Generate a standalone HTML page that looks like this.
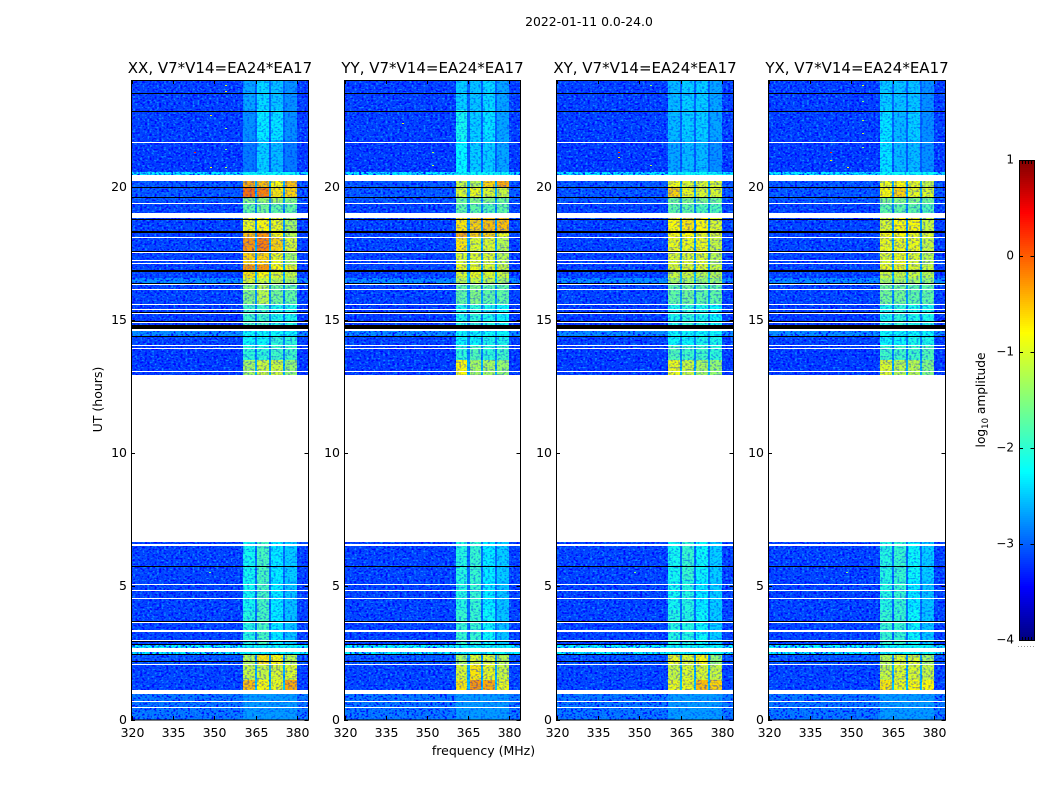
<!DOCTYPE html>
<html>
<head>
<meta charset="utf-8">
<title>2022-01-11 0.0-24.0</title>
<style>
html,body{margin:0;padding:0;background:#fff;}
svg{display:block;}
text{font-family:"DejaVu Sans","Liberation Sans",sans-serif;fill:#000;}
</style>
</head>
<body>
<svg id="fig" xmlns="http://www.w3.org/2000/svg" width="1050" height="800" viewBox="0 0 1050 800">
<defs>
<filter id="speckDark" x="0" y="0" width="100%" height="100%" color-interpolation-filters="sRGB">
<feTurbulence type="fractalNoise" baseFrequency="0.42 0.55" numOctaves="1" seed="4"/>
<feColorMatrix type="matrix" values="0 0 0 0 0.0  0 0 0 0 0.0  0 0 0 0 1  5 0 0 0 -2.4"/>
</filter>
<filter id="speckLight" x="0" y="0" width="100%" height="100%" color-interpolation-filters="sRGB">
<feTurbulence type="fractalNoise" baseFrequency="0.42 0.55" numOctaves="1" seed="17"/>
<feColorMatrix type="matrix" values="0 0 0 0 0.05  0 0 0 0 0.55  0 0 0 0 1  5 0 0 0 -2.7"/>
</filter>
</defs>
<text x="589" y="26" font-size="12.4" text-anchor="middle">2022-01-11 0.0-24.0</text>
<text x="483.5" y="755" font-size="12.5" text-anchor="middle">frequency (MHz)</text>
<text x="0" y="0" font-size="12.5" text-anchor="middle" transform="translate(102,399.5) rotate(-90)">UT (hours)</text>
<text x="0" y="0" font-size="12.2" text-anchor="middle" transform="translate(985,400) rotate(-90)">log<tspan font-size="8.5" dy="3">10</tspan><tspan dy="-3"> amplitude</tspan></text>
<g id="panels"></g>
<g id="colorbar"></g>
</svg>
<script>
// ---- categories and axis labels ----
const panelTitles = ["XX, V7*V14=EA24*EA17", "YY, V7*V14=EA24*EA17", "XY, V7*V14=EA24*EA17", "YX, V7*V14=EA24*EA17"];
const freqTicks = [320, 335, 350, 365, 380];
const utTicks = [0, 5, 10, 15, 20];
const colorbarTicks = [1, 0, -1, -2, -3, -4];

// ---- frequency channels (MHz) : background, four sub-bands, three notches ----
const channelStart = [320, 360.5, 364.8, 365.6, 369.8, 370.6, 374.8, 375.6, 380];
const channelEnd = [360.5, 364.8, 365.6, 369.8, 370.6, 374.8, 375.6, 380, 384];
// index of each channel into a row [bg, s1, s2, s3, s4, notch]
const channelKey = [0, 1, 5, 2, 5, 3, 5, 4, 0];

// ---- time rows (UT hours) ----
const rowTop = [24, 22.87, 21.74, 20.54, 20.2, 19.98, 19.6, 19.37, 18.82, 18.29, 18.1, 17.54, 17.05, 16.79, 16.56, 16.34, 15.59, 14.58, 14.39, 14.05, 13.49, 6.66, 5.23, 4.1, 2.8, 2.46, 2.08, 1.48, 1.11];
const rowBottom = [22.87, 21.74, 20.54, 20.2, 19.98, 19.6, 19.37, 18.82, 18.29, 18.1, 17.54, 17.05, 16.79, 16.56, 16.34, 15.59, 14.58, 14.39, 14.05, 13.49, 12.93, 5.23, 4.1, 2.8, 2.46, 2.08, 1.48, 1.11, 0];

// ---- log10 amplitude per row: [bg, s1, s2, s3, s4, notch] ----
const xxValues = [
[-3.12,-2.65,-2.4,-2.5,-2.75,-2.95],[-3.12,-2.75,-2.3,-2.35,-2.75,-2.95],[-3.15,-2.85,-2.45,-2.55,-2.85,-3.0],[-2.3,-2.2,-2.2,-2.2,-2.2,-2.2],
[-3.0,-0.4,-0.5,-0.8,-0.5,-2.6],[-3.0,-0.1,-0.2,-0.7,-0.6,-2.6],[-3.0,-1.5,-1.4,-1.3,-1.5,-2.7],[-3.1,-1.7,-1.6,-1.7,-1.7,-2.8],
[-3.1,-0.9,-0.8,-0.9,-1.3,-2.7],[-3.1,-0.5,-0.3,-0.8,-1.2,-2.7],[-3.1,-0.3,-0.2,-0.6,-1.0,-2.6],[-3.1,-0.6,-0.6,-0.9,-1.3,-2.7],
[-3.1,-0.3,-0.3,-0.8,-0.9,-2.6],[-3.1,-0.7,-0.8,-1.0,-1.1,-2.5],[-2.75,-1.0,-1.1,-1.2,-1.3,-2.5],[-3.1,-1.5,-1.2,-1.6,-1.7,-2.7],
[-3.15,-1.9,-1.9,-2.1,-2.1,-2.8],[-2.75,-2.2,-2.2,-2.2,-2.2,-2.6],[-3.1,-2.2,-2.2,-2.0,-2.0,-2.8],[-3.15,-2.0,-2.0,-1.9,-1.9,-2.8],[-3.15,-1.3,-1.1,-1.1,-1.4,-2.6],
[-3.1,-2.15,-1.85,-2.3,-2.45,-2.9],[-3.1,-2.15,-1.85,-2.3,-2.5,-2.9],[-3.1,-2.05,-1.85,-2.3,-2.5,-2.9],[-2.25,-2.2,-2.2,-2.2,-2.2,-2.2],
[-3.0,-1.2,-0.7,-0.8,-1.2,-2.7],[-3.1,-1.1,-1.1,-1.0,-1.0,-2.6],[-3.1,-0.5,-0.8,-0.9,-0.4,-2.5],[-2.85,-2.7,-2.7,-2.7,-2.7,-2.7]];
const yyValues = [
[-3.12,-2.45,-2.5,-2.4,-2.65,-2.95],[-3.12,-2.15,-2.45,-2.35,-2.65,-2.95],[-3.15,-2.25,-2.45,-2.45,-2.65,-3.0],[-2.3,-2.2,-2.2,-2.2,-2.2,-2.2],
[-3.0,-1.1,-1.2,-0.6,-0.4,-2.6],[-3.0,-1.0,-0.9,-1.0,-1.1,-2.6],[-3.0,-1.6,-1.5,-1.5,-1.6,-2.7],[-3.1,-1.7,-1.7,-1.8,-1.7,-2.8],
[-3.1,-0.7,-0.6,-0.5,-0.5,-2.7],[-3.1,-0.4,-0.6,-0.6,-0.9,-2.7],[-3.1,-0.7,-1.0,-1.0,-1.2,-2.6],[-3.1,-1.0,-1.0,-1.0,-1.2,-2.7],
[-3.1,-0.9,-0.9,-1.0,-1.1,-2.6],[-3.1,-1.0,-0.9,-1.0,-1.1,-2.5],[-2.75,-1.2,-1.1,-1.2,-1.3,-2.5],[-3.1,-1.7,-1.5,-1.7,-1.7,-2.7],
[-3.15,-2.1,-2.0,-2.1,-2.2,-2.8],[-2.75,-2.2,-2.2,-2.2,-2.2,-2.6],[-3.1,-2.2,-2.2,-2.1,-2.1,-2.8],[-3.15,-2.0,-1.8,-2.0,-1.9,-2.8],[-3.15,-0.8,-1.3,-1.3,-1.4,-2.6],
[-3.1,-2.05,-1.95,-2.3,-2.45,-2.9],[-3.1,-2.05,-1.95,-2.3,-2.5,-2.9],[-3.1,-1.95,-1.95,-2.2,-2.5,-2.9],[-2.25,-2.2,-2.2,-2.2,-2.2,-2.2],
[-3.0,-1.3,-1.0,-1.0,-1.2,-2.7],[-3.1,-1.0,-0.7,-0.9,-1.1,-2.6],[-3.1,-0.7,-0.3,-0.4,-0.9,-2.5],[-2.85,-2.7,-2.7,-2.7,-2.7,-2.7]];
const xyValues = [
[-3.12,-2.55,-2.45,-2.45,-2.65,-2.95],[-3.12,-2.55,-2.45,-2.45,-2.65,-2.95],[-3.15,-2.65,-2.55,-2.55,-2.75,-3.0],[-2.3,-2.2,-2.2,-2.2,-2.2,-2.2],
[-3.0,-0.9,-1.0,-1.0,-1.0,-2.6],[-3.0,-0.6,-0.9,-1.0,-1.0,-2.6],[-3.0,-1.6,-1.5,-1.5,-1.6,-2.7],[-3.1,-1.7,-1.7,-1.8,-1.8,-2.8],
[-3.1,-0.8,-0.7,-0.8,-1.0,-2.7],[-3.1,-0.8,-0.8,-0.9,-1.0,-2.7],[-3.1,-0.9,-0.9,-0.9,-1.1,-2.6],[-3.1,-1.0,-1.0,-1.0,-1.2,-2.7],
[-3.1,-1.0,-1.0,-1.0,-1.1,-2.6],[-3.1,-1.1,-1.1,-1.2,-1.2,-2.5],[-2.75,-1.3,-1.3,-1.4,-1.4,-2.5],[-3.1,-1.7,-1.6,-1.7,-1.7,-2.7],
[-3.15,-2.1,-2.0,-2.1,-2.2,-2.8],[-2.75,-2.2,-2.2,-2.2,-2.2,-2.6],[-3.1,-2.2,-2.2,-2.1,-2.1,-2.8],[-3.15,-1.8,-1.9,-1.9,-2.0,-2.8],[-3.15,-0.9,-1.1,-1.3,-1.4,-2.6],
[-3.1,-2.15,-1.95,-2.2,-2.45,-2.9],[-3.1,-2.15,-2.05,-2.3,-2.45,-2.9],[-3.1,-2.05,-2.05,-2.2,-2.45,-2.9],[-2.25,-2.2,-2.2,-2.2,-2.2,-2.2],
[-3.0,-0.9,-1.0,-0.8,-1.4,-2.7],[-3.1,-1.1,-1.0,-1.0,-1.1,-2.6],[-3.1,-0.9,-0.9,-0.5,-0.6,-2.5],[-2.85,-2.7,-2.7,-2.7,-2.7,-2.7]];
const yxValues = [
[-3.12,-2.45,-2.5,-2.5,-2.75,-2.95],[-3.12,-2.35,-2.55,-2.45,-2.75,-2.95],[-3.15,-2.35,-2.55,-2.55,-2.75,-3.0],[-2.3,-2.2,-2.2,-2.2,-2.2,-2.2],
[-3.0,-0.9,-0.8,-0.9,-1.1,-2.6],[-3.0,-0.8,-0.6,-0.9,-1.0,-2.6],[-3.0,-1.5,-1.5,-1.5,-1.6,-2.7],[-3.1,-1.7,-1.7,-1.7,-1.8,-2.8],
[-3.1,-1.0,-0.8,-0.8,-1.1,-2.7],[-3.1,-0.8,-0.8,-0.9,-1.0,-2.7],[-3.1,-0.9,-0.9,-0.9,-1.1,-2.6],[-3.1,-1.0,-0.9,-1.0,-1.2,-2.7],
[-3.1,-0.9,-0.9,-1.0,-1.1,-2.6],[-3.1,-1.1,-1.1,-1.1,-1.2,-2.5],[-2.75,-1.3,-1.3,-1.3,-1.4,-2.5],[-3.1,-1.6,-1.6,-1.7,-1.7,-2.7],
[-3.15,-2.1,-2.0,-2.1,-2.1,-2.8],[-2.75,-2.2,-2.2,-2.2,-2.2,-2.6],[-3.1,-2.2,-2.2,-2.1,-2.1,-2.8],[-3.15,-1.9,-1.9,-1.9,-1.8,-2.8],[-3.15,-1.0,-1.2,-1.2,-1.5,-2.6],
[-3.1,-2.05,-1.95,-2.2,-2.45,-2.9],[-3.1,-2.05,-1.95,-2.3,-2.5,-2.9],[-3.1,-1.95,-1.95,-2.2,-2.5,-2.9],[-2.25,-2.2,-2.2,-2.2,-2.2,-2.2],
[-3.0,-1.2,-1.0,-1.0,-1.3,-2.7],[-3.1,-1.1,-1.0,-1.0,-1.1,-2.6],[-3.1,-0.7,-0.9,-0.8,-0.8,-2.5],[-2.85,-2.7,-2.7,-2.7,-2.7,-2.7]];

// ---- flagged integrations (UT hours) ----
const whiteFlagTop = [21.69,19.39,18.11,17.56,17.25,17.14,16.35,16.16,15.6,15.39,15.25,14.91,14.06,13.95,13.07,6.57,5.08,4.85,4.57,3.65,3.35,3.0,2.1,0.7,0.48,20.43,19.02,14.66,2.67,1.11];
const whiteFlagBottom = [21.65,19.35,18.07,17.52,17.21,17.1,16.31,16.12,15.56,15.35,15.21,14.87,14.02,13.91,13.03,6.53,5.04,4.81,4.53,3.61,3.29,2.96,2.06,0.66,0.44,20.2,18.81,14.58,2.52,0.96];
const blackFlagTop = [23.52,22.84,19.99,19.62,18.79,18.33,17.6,16.86,16.38,15.3,14.97,14.81,14.41,5.75,3.69,2.93,2.84,2.47,2.19];
const blackFlagBottom = [23.48,22.8,19.95,19.58,18.75,18.25,17.56,16.78,16.34,15.26,14.93,14.66,14.37,5.71,3.65,2.89,2.8,2.43,2.15];

// ---- isolated interference points ----
const rfiPanel = [0,0,0,0,0,0,0,0,1,1,1,1,2,2,2,2,3,3,3,3,3,3,3,3,0,2,3];
const rfiFreq = [354,354,354,354,348.6,342.5,348.6,354,352,352,341,345,354,342.3,342.3,354,354,354,354,354,342.3,342.3,348.6,354,348,348,348];
const rfiUT = [23.8,23.6,22.2,21.4,22.7,21.3,20.75,20.75,21.3,20.8,22.4,18.3,23.8,21.3,21.1,20.8,23.8,23.2,22.5,22,21.3,21,20.75,21.5,5.55,5.55,5.55];
const rfiValue = [-1,-0.9,-1.4,-1.5,-0.8,0.3,-0.8,-1.2,-1.2,-1.2,-1,-1.4,-1.4,0.3,-0.7,-1.2,-1,-1.5,-1.2,-1.2,0.3,-0.7,-0.9,-1.4,-1.5,-1.5,-1.5];

const panelValues = [xxValues, yyValues, xyValues, yxValues];
const panelLeft = [131, 344, 556, 768];
const panelWidth = [177, 176, 177, 177];
const plotTop = 80, plotBottom = 719.5;
const SVGNS = "http://www.w3.org/2000/svg";

// ---- axis functions ----
function xScale(panel, f){ return panelLeft[panel] + 0.5 + (f - 320) * (panelWidth[panel] - 0.5) / 64; }
function yScale(ut){ return plotBottom - ut * (plotBottom - plotTop) / 24; }
function cbScale(v){ return 640 - (v + 4) * 96; }
function jet(v){
  const t = Math.max(0, Math.min(1, (v + 4) / 5));
  const a = [[0,0,0,127],[0.11,0,0,255],[0.35,0,255,255],[0.64,255,255,0],[0.89,255,0,0],[1,127,0,0]];
  for (let i = 1; i < a.length; i++) {
    if (t <= a[i][0]) {
      const u = (t - a[i-1][0]) / (a[i][0] - a[i-1][0]);
      const c = [1,2,3].map(k => Math.round(a[i-1][k] + u * (a[i][k] - a[i-1][k])));
      return "rgb(" + c.join(",") + ")";
    }
  }
  return "rgb(127,0,0)";
}
function mk(tag, parent, attrs){
  const el = document.createElementNS(SVGNS, tag);
  for (const k in attrs) el.setAttribute(k, attrs[k]);
  parent.appendChild(el);
  return el;
}

const panelsG = document.getElementById("panels");
panelTitles.forEach(function(title, p){
  const g = mk("g", panelsG, {});
  
  
  const L = panelLeft[p], W = panelWidth[p];

  // heatmap
  const heat = mk("g", g, {"shape-rendering": "crispEdges"});
  
  
  panelValues[p].forEach(function(row, r){
    channelKey.forEach(function(key, c){
      const x0 = Math.round(xScale(p, channelStart[c])), x1 = Math.round(xScale(p, channelEnd[c]));
      const y0 = Math.round(yScale(rowTop[r])), y1 = Math.round(yScale(rowBottom[r]));
      const cell = mk("rect", heat, {x: x0, y: y0, width: x1 - x0, height: y1 - y0, fill: jet(row[key])});
      
      
    });
  });

  // speckle texture over rows with data: full over background, faint over the bright sub-bands
  const xBandA = Math.round(xScale(p, 360.5)), xBandB = Math.round(xScale(p, 380));
  [[24, 12.93], [6.66, 0]].forEach(function(seg){
    const yA = Math.round(yScale(seg[0])), yB = Math.round(yScale(seg[1]));
    [[L, xBandA, 1], [xBandA, xBandB, 0.4], [xBandB, L + W, 1]].forEach(function(part){
      ["speckDark", "speckLight"].forEach(function(fid){
        const t = mk("rect", heat, {x: part[0], y: yA, width: part[1] - part[0], height: yB - yA, filter: "url(#" + fid + ")", opacity: part[2]});
        
        
      });
    });
  });

  // interference points
  rfiPanel.forEach(function(pp, i){
    if (pp !== p) return;
    const s = mk("rect", heat, {x: Math.round(xScale(p, rfiFreq[i])), y: Math.round(yScale(rfiUT[i])), width: 2, height: 1, fill: jet(rfiValue[i])});
    
    
  });

  // flagged rows
  whiteFlagTop.forEach(function(u, i){
    const a = Math.round(yScale(u)), b = Math.round(yScale(whiteFlagBottom[i]));
    const f = mk("rect", heat, {x: L, y: a, width: W, height: Math.max(b - a, 1), fill: "#fff"});
    
    
  });
  blackFlagTop.forEach(function(u, i){
    const a = Math.round(yScale(u)), b = Math.round(yScale(blackFlagBottom[i]));
    const f = mk("rect", heat, {x: L, y: a, width: W, height: Math.max(b - a, 1), fill: "#000"});
    
    
  });

  // frame
  const frame = mk("rect", g, {x: L + 0.5, y: plotTop + 0.5, width: W, height: plotBottom - plotTop, fill: "none", stroke: "#000", "stroke-width": 1});
  
  

  // x ticks
  freqTicks.forEach(function(f){
    const x = Math.round(xScale(p, f)) + 0.5;
    const t1 = mk("line", g, {x1: x, x2: x, y1: plotBottom + 0.5, y2: plotBottom - 3.5, stroke: "#000"});
    
    
    const t2 = mk("line", g, {x1: x, x2: x, y1: plotTop, y2: plotTop + 4, stroke: "#000"});
    
    
    const lb = mk("text", g, {x: x, y: 737, "font-size": 12.5, "text-anchor": "middle"});
    
    
    lb.textContent = f;
  });

  // y ticks
  utTicks.forEach(function(u){
    const y = Math.round(yScale(u)) + 0.5;
    const t1 = mk("line", g, {x1: L, x2: L + 4, y1: y, y2: y, stroke: "#000"});
    
    
    const t2 = mk("line", g, {x1: L + W + 0.5, x2: L + W - 3.5, y1: y, y2: y, stroke: "#000"});
    
    
    const lb = mk("text", g, {x: L - 4, y: y + 3.5, "font-size": 12.5, "text-anchor": "end"});
    
    
    lb.textContent = u;
  });

  // title
  const tt = mk("text", g, {x: L + W / 2 + 0.5, y: 73, "font-size": 15, "text-anchor": "middle"});
  
  
  tt.textContent = title;
});

// ---- colorbar ----
const cbG = document.getElementById("colorbar");
const cbL = 1019, cbW = 15;
for (let py = 160; py < 640; py += 2) {
  const v = (640 - py - 1) / 96 - 4;
  const s = mk("rect", cbG, {x: cbL, y: py, width: cbW, height: 2, fill: jet(v), "shape-rendering": "crispEdges"});
  
  
}
const cbFrame = mk("rect", cbG, {x: cbL + 0.5, y: 160.5, width: cbW, height: 480, fill: "none", stroke: "#000"});


colorbarTicks.forEach(function(v){
  const y = Math.round(cbScale(v)) + 0.5;
  const inner = (v === 1 || v === -4);
  if (inner) {
    for (let k = 1; k <= 4; k++) {
      const x = cbL + k * 3 + 0.5;
      const m = mk("line", cbG, {x1: x, x2: x, y1: v === 1 ? 160 : 641, y2: v === 1 ? 164 : 637, stroke: "#000"});
      
      
    }
  } else {
    const a = mk("line", cbG, {x1: cbL, x2: cbL + 4, y1: y, y2: y, stroke: "#000"});
    
    
    const b = mk("line", cbG, {x1: cbL + cbW + 0.5, x2: cbL + cbW - 3.5, y1: y, y2: y, stroke: "#000"});
    
    
  }
  const lb = mk("text", cbG, {x: 1014, y: y + 3, "font-size": 12, "text-anchor": "end"});
  
  
  lb.textContent = (v < 0 ? "\u2212" + (-v) : String(v));
});
const dots = mk("line", cbG, {x1: 1018, x2: 1035, y1: 646.5, y2: 646.5, stroke: "#999", "stroke-width": 1, "stroke-dasharray": "1 2"});


</script>
</body>
</html>
